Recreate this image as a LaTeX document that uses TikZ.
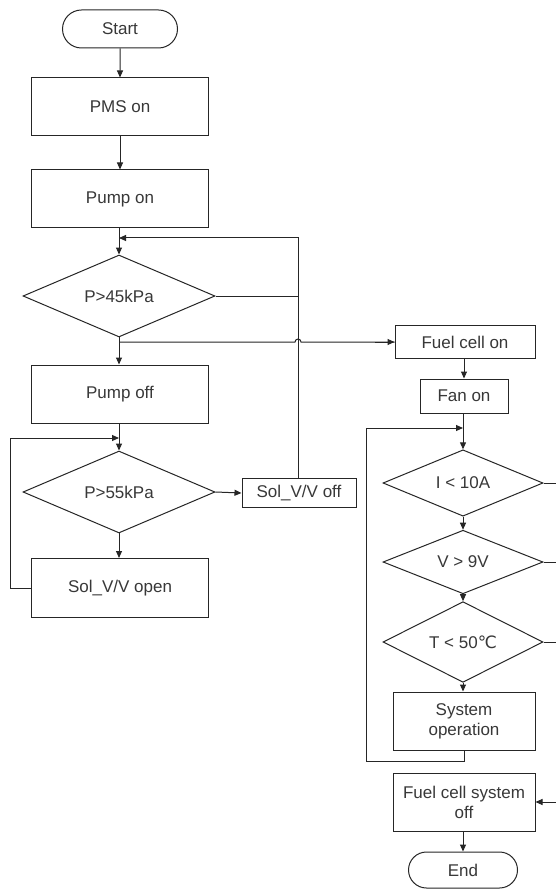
\documentclass[tikz,border=0pt]{standalone}
\usepackage{fontspec}
\setmainfont{Liberation Sans}
\newfontfamily\symfont{DejaVu Sans}
\usetikzlibrary{shapes.geometric,shapes.misc,arrows.meta}
\begin{document}
\begin{tikzpicture}[x=1pt,y=-1pt,
  every node/.style={font=\fontsize{17}{20}\selectfont, text=black!78},
  line/.style={draw=black!85, line width=1pt},
  arr/.style={line, -{Triangle[length=7pt,width=6pt]}},
  box/.style={line, rectangle, inner sep=0pt, align=center},
  dec/.style={line, diamond, inner sep=0pt, minimum width=#1, minimum height=74pt},
  term/.style={line, rounded rectangle, inner sep=0pt, minimum width=#1, minimum height=38pt}
]
\useasboundingbox (0,0) rectangle (555,890);
\fill[white] (0,0) rectangle (555,890);

% left column
\node[term=115pt] (start) at (120,29) {Start};
\node[box, minimum width=177pt, minimum height=58pt] (pms) at (120,107) {PMS on};
\node[box, minimum width=177pt, minimum height=58pt] (pumpon) at (120,199) {Pump on};
\node[dec=192pt] (d45) at (119,296) {P>45kPa};
\node[box, minimum width=177pt, minimum height=58pt] (pumpoff) at (120,394) {Pump off};
\node[dec=192pt] (d55) at (119,492) {P>55kPa};
\node[box, minimum width=177pt, minimum height=59pt] (solopen) at (120,588) {Sol\_V/V open};
\node[box, minimum width=114pt, minimum height=29pt] (soloff) at (299,493) {Sol\_V/V off};

% right column
\node[box, minimum width=140pt, minimum height=33pt] (fcon) at (465,342) {Fuel cell on};
\node[box, minimum width=88pt, minimum height=34pt] (fanon) at (464,396) {Fan on};
\node[dec=160pt, minimum height=60pt] (dI) at (463,483) {I < 10A};
\node[dec=160pt, minimum height=59pt] (dV) at (463,562) {V > 9V};
\node[dec=160pt, minimum height=59pt] (dT) at (463,642) {T < 50{\symfont ℃}};
\node[box, minimum width=142pt, minimum height=58pt] (sysop) at (464,721) {System\\operation};
\node[box, minimum width=142pt, minimum height=58pt] (fcoff) at (464,802) {Fuel cell system\\off};
\node[term=109pt, minimum height=36pt] (endn) at (463,870) {End};

% junction coordinates
\coordinate (j1) at (119,238);
\coordinate (j2) at (119,342);
\coordinate (j3) at (119,438);
\coordinate (jl) at (10,438);
\coordinate (j4) at (463,428);
\coordinate (c5) at (366,761);
\coordinate (c6) at (366,428);
\coordinate (bus) at (557,0);

% left connectors
\draw[arr] (start) -- (pms);
\draw[arr] (pms) -- (pumpon);
\draw[arr] (pumpon.south -| d45.north) -- (d45.north);
\draw[arr] (soloff.north -| 298,0) -- (298,238) -- (j1);
\draw[line] (d45.east) -- (298,296);
\draw[arr] (d45.south) -- (pumpoff.north -| d45.south);
\draw[line] (j2) -- (295,342) arc[start angle=180, end angle=360, radius=3] -- (fcon.west);
\draw[arr] (fcon.west) ++(-20,0) -- (fcon.west);
\draw[arr] (pumpoff.south -| d55.north) -- (d55.north);
\draw[arr] (d55.east) -- (soloff.west);
\draw[arr] (d55.south) -- (solopen.north -| d55.south);
\draw[arr] (solopen.west) -| (jl) -- (j3);

% right connectors
\draw[arr] (fcon.south -| fanon.north) -- (fanon.north);
\draw[arr] (fanon.south -| dI.north) -- (dI.north);
\draw[arr] (dI) -- (dV);
\draw[arr] (dV) -- (dT);
\draw[arr] (dT.south) -- (sysop.north -| dT.south);
\draw[arr] (sysop.south -| c5) ++(0,0) (sysop.south) -- (sysop.south |- c5) -- (c5) -- (c6) -- (j4);
\draw[line] (dV.east) -- (dV.east -| bus);
\draw[line] (dT.east) -- (dT.east -| bus);
\draw[arr] (dI.east) -| (bus |- fcoff.east) -- (fcoff.east);
\draw[arr] (fcoff.south -| endn.north) -- (endn.north);
\end{tikzpicture}
\end{document}
